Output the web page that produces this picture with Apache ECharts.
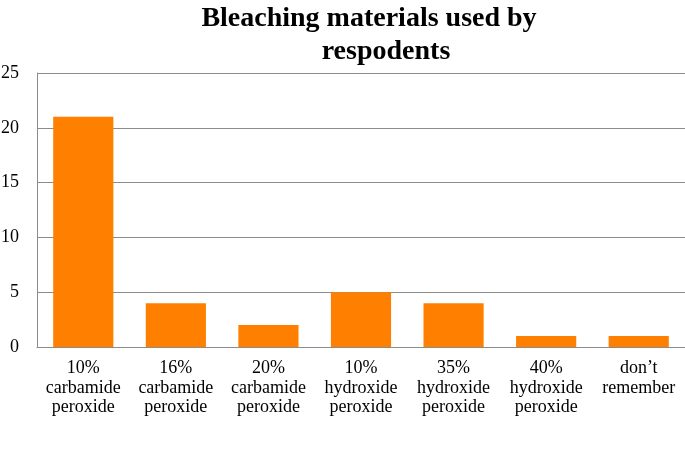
<!DOCTYPE html>
<html>
<head>
<meta charset="utf-8">
<script src="https://cdn.jsdelivr.net/npm/echarts@6/dist/echarts.min.js"></script>
<style>
  html, body { margin: 0; padding: 0; background: #fff; }
  #chart { width: 685px; height: 453px; }
</style>
</head>
<body>
<div id="chart"></div>
<script>
const titleLines = ['Bleaching materials used by', 'respodents'];
const categories = [
    '10%\ncarbamide\nperoxide',
    '16%\ncarbamide\nperoxide',
    '20%\ncarbamide\nperoxide',
    '10%\nhydroxide\nperoxide',
    '35%\nhydroxide\nperoxide',
    '40%\nhydroxide\nperoxide',
    'don\u2019t\nremember'
];
const counts = [21, 4, 2, 5, 4, 1, 1];
const yTicks = { min: 0, max: 25, interval: 5 };

const titleStyle = {
    fontFamily: 'Liberation Serif',
    fontWeight: 'bold',
    fontSize: 28,
    lineHeight: 34,
    color: '#000'
};

const chart = echarts.init(document.getElementById('chart'));
const option = {
    animation: false,
    title: [
        { text: titleLines[0], left: 369, textAlign: 'center', top: 2, padding: 0, textStyle: titleStyle },
        { text: titleLines[1], left: 386, textAlign: 'center', top: 35, padding: 0, textStyle: titleStyle }
    ],
    grid: { left: 37, right: 0, top: 73, bottom: 106, containLabel: false, outerBoundsMode: 'none' },
    xAxis: {
        type: 'category',
        data: categories,
        axisLine: { lineStyle: { color: '#8c8c8c', width: 1 } },
        axisTick: { show: false },
        axisLabel: {
            interval: 0,
            margin: 12,
            fontFamily: 'Liberation Serif',
            fontSize: 18,
            lineHeight: 19.5,
            color: '#000'
        }
    },
    yAxis: {
        type: 'value',
        min: yTicks.min,
        max: yTicks.max,
        interval: yTicks.interval,
        axisLine: { show: true, lineStyle: { color: '#8c8c8c', width: 1 } },
        axisTick: { show: false },
        splitLine: { lineStyle: { color: '#8c8c8c', width: 1 } },
        axisLabel: {
            margin: 18,
            fontFamily: 'Liberation Serif',
            fontSize: 18,
            color: '#000'
        }
    },
    series: [{
        type: 'bar',
        data: counts,
        barWidth: '65%',
        itemStyle: { color: '#ff8000' }
    }]
};
chart.setOption(option);
</script>
</body>
</html>
